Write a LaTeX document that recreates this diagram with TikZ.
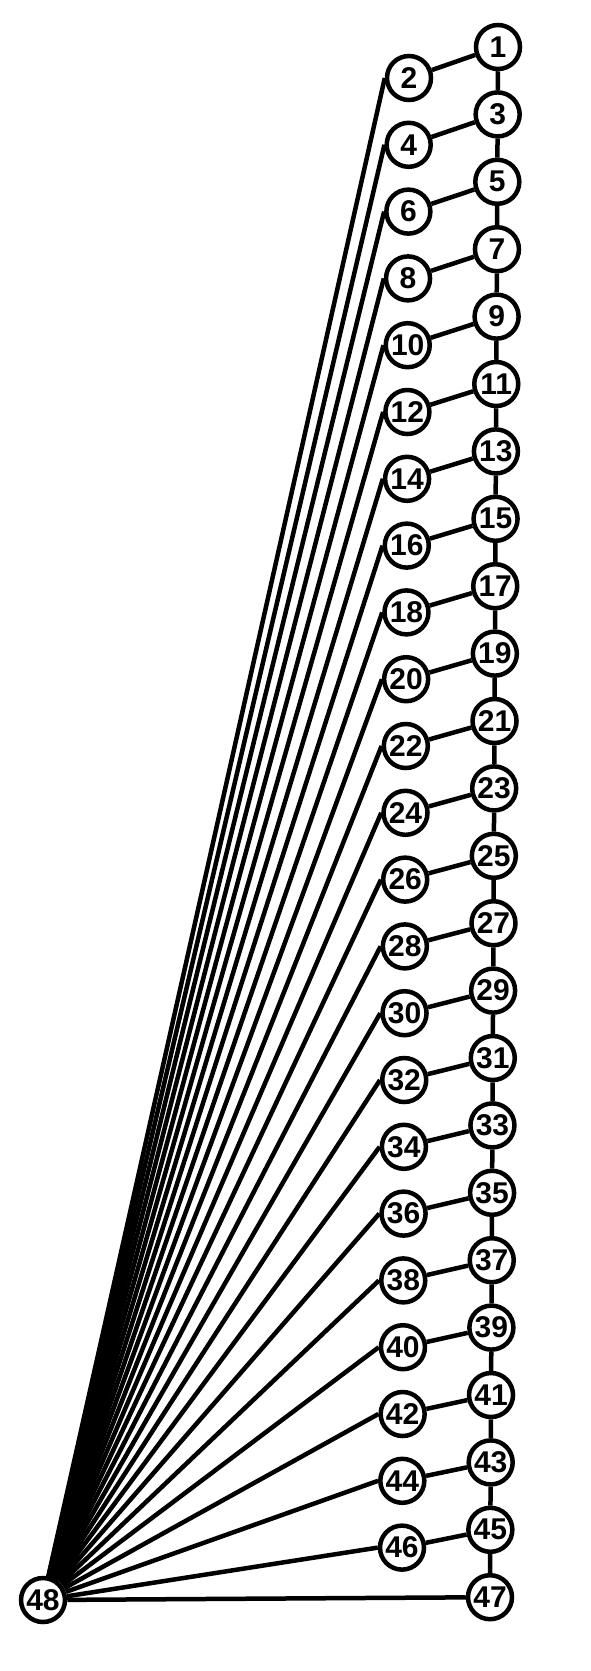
\documentclass[tikz,border=0pt]{standalone}
\usepackage{fontspec}
\setmainfont{Liberation Sans}

\begin{document}
\begin{tikzpicture}[
    x=1pt, y=-1pt,
    every node/.style={circle, draw, line width=4.5pt, fill=white, minimum size=44pt, inner sep=0pt, font=\fontsize{30}{30}\selectfont\bfseries},
    link/.style={draw=black, line width=4.5pt}
]
\useasboundingbox (0,0) rectangle (590,1671);

% Hub on the left
\node (n48) at (43,1600) {48};

% Outer column (odd)
\foreach \i in {0,...,23} {
    \pgfmathtruncatemacro{\k}{2*\i+1}
    \node (n\k) at ({498-8*\i/23},{47+67.4*\i}) {\k};
}

% Inner column (even)
\foreach \j in {0,...,22} {
    \pgfmathtruncatemacro{\k}{2*\j+2}
    \node (n\k) at ({409-7*\j/22},{78+66.8*\j}) {\k};
}

% Links
\foreach \i in {0,...,22} {
    \pgfmathtruncatemacro{\a}{2*\i+1}
    \pgfmathtruncatemacro{\b}{2*\i+2}
    \pgfmathtruncatemacro{\c}{2*\i+3}
    \draw[link] (n\a) -- (n\b);
    \draw[link] (n\a) -- (n\c);
    \draw[link] (n\b.west) -- (n48);
}
\draw[link] (n47) -- (n48);
\end{tikzpicture}
\end{document}
